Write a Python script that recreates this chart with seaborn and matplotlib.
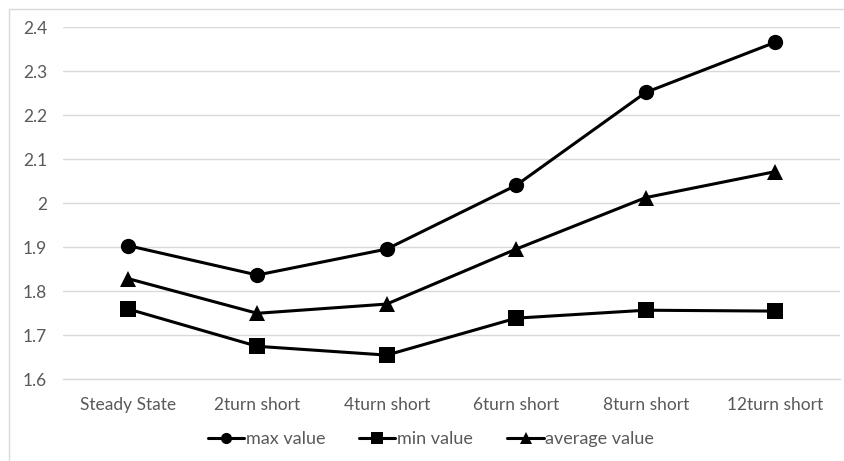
import matplotlib
matplotlib.use("Agg")
import matplotlib.pyplot as plt
from matplotlib.patches import Rectangle
from matplotlib.lines import Line2D
import seaborn as sns
import pandas as pd

categories = ["Steady State", "2turn short", "4turn short", "6turn short", "8turn short", "12turn short"]
max_value = [1.904, 1.837, 1.896, 2.041, 2.252, 2.366]
min_value = [1.760, 1.675, 1.655, 1.739, 1.757, 1.755]
average_value = [1.829, 1.750, 1.771, 1.896, 2.013, 2.072]
series_names = ["max value", "min value", "average value"]
y_ticks = [1.6, 1.7, 1.8, 1.9, 2.0, 2.1, 2.2, 2.3, 2.4]
y_tick_labels = ["1.6", "1.7", "1.8", "1.9", "2", "2.1", "2.2", "2.3", "2.4"]

sns.set_theme(style="white")
plt.rcParams["font.family"] = ["Lato", "DejaVu Sans"]

df = pd.DataFrame({
    "category": categories * 3,
    "value": max_value + min_value + average_value,
    "series": [series_names[0]] * 6 + [series_names[1]] * 6 + [series_names[2]] * 6,
})
df["pos"] = list(range(6)) * 3

W, H = 845, 461
fig = plt.figure(figsize=(W / 100, H / 100), dpi=100)
ax = fig.add_axes([63 / W, 1 - 379.3 / H, (840 - 63) / W, (379.3 - 27.3) / H])

# outer chart frame
fig.patches.append(Rectangle((9 / W, -0.1), 1.2, 1 - 9 / H + 0.1, transform=fig.transFigure,
                             fill=False, edgecolor="#d9d9d9", linewidth=1.0, zorder=0))

markers = {"max value": "o", "min value": "s", "average value": "^"}
sns.lineplot(data=df, x="pos", y="value", hue="series", style="series",
             markers=markers, dashes=False, palette=["black"] * 3,
             linewidth=2.2, markersize=11, markeredgewidth=0, ax=ax, legend=False)

ax.set_xlim(-0.5, 5.5)
ax.set_ylim(1.6, 2.4)
ax.set_yticks(y_ticks)
ax.set_yticklabels(y_tick_labels)
ax.set_xticks(range(6))
ax.set_xticklabels(categories)
ax.yaxis.grid(True, color="#d9d9d9", linewidth=1.0)
ax.xaxis.grid(False)
ax.set_axisbelow(True)
for s in ["top", "right", "left"]:
    ax.spines[s].set_visible(False)
ax.spines["bottom"].set_color("#d9d9d9")
ax.spines["bottom"].set_linewidth(1.0)
ax.tick_params(axis="both", length=0, labelsize=12.5, labelcolor="#595959")
ax.tick_params(axis="y", pad=11.5)
ax.tick_params(axis="x", pad=13)
ax.set_xlabel("")
ax.set_ylabel("")

handles = [Line2D([], [], color="black", linewidth=2.2, marker=markers[n], markersize=8,
                  markeredgewidth=0) for n in series_names]
fig.legend(handles, series_names, loc="center", bbox_to_anchor=(0.51, 1 - 439 / H),
           ncol=3, frameon=False, fontsize=13, labelcolor="#595959",
           handlelength=2.0, handletextpad=0.1, columnspacing=1.9)

fig.savefig("out.png", dpi=100)
